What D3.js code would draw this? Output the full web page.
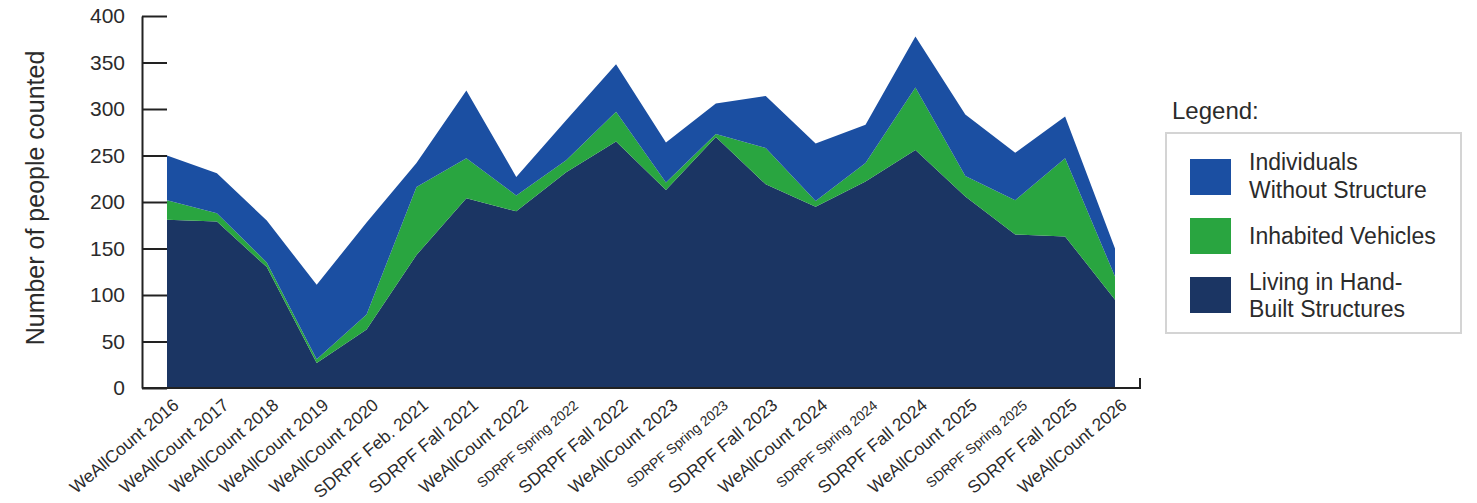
<!DOCTYPE html>
<html>
<head>
<meta charset="utf-8">
<script src="https://cdn.jsdelivr.net/npm/d3@7"></script>
<style>
  body { margin: 0; background: #fff; }
  svg text { font-family: "Liberation Sans", Arial, sans-serif; fill: #2b2b2b; }
</style>
</head>
<body>
<div id="chart"></div>
<script>
// counts
const categories = ["WeAllCount 2016", "WeAllCount 2017", "WeAllCount 2018", "WeAllCount 2019",
  "WeAllCount 2020", "SDRPF Feb. 2021", "SDRPF Fall 2021", "WeAllCount 2022", "SDRPF Spring 2022",
  "SDRPF Fall 2022", "WeAllCount 2023", "SDRPF Spring 2023", "SDRPF Fall 2023", "WeAllCount 2024",
  "SDRPF Spring 2024", "SDRPF Fall 2024", "WeAllCount 2025", "SDRPF Spring 2025", "SDRPF Fall 2025",
  "WeAllCount 2026"];
const handBuilt = [181, 179, 130, 27, 63, 143, 204, 190, 232, 265, 213, 270, 219, 195, 222, 256, 206, 165, 163, 95];
const vehicles = [21, 9, 5, 4, 16, 73, 43, 17, 13, 32, 8, 3, 39, 6, 20, 67, 22, 37, 84, 25];
const individuals = [48, 43, 45, 80, 99, 26, 73, 20, 43, 51, 43, 33, 56, 62, 41, 55, 66, 51, 45, 30];
const yTicks = [0, 50, 100, 150, 200, 250, 300, 350, 400];

const seriesKeys = ["handBuilt", "vehicles", "individuals"];
const colors = {handBuilt: "#1b3563", vehicles: "#29a540", individuals: "#1b4fa2"};
const legendItems = [
  {key: "individuals", lines: ["Individuals", "Without Structure"]},
  {key: "vehicles", lines: ["Inhabited Vehicles"]},
  {key: "handBuilt", lines: ["Living in Hand-", "Built Structures"]}
];

const width = 1477, height = 503;
const rows = categories.map((c, i) => ({
  cat: c, handBuilt: handBuilt[i], vehicles: vehicles[i], individuals: individuals[i]
}));

const svg = d3.select("#chart").append("svg")
  .attr("width", width)
  .attr("height", height);

// scales
const x = d3.scalePoint().domain(categories).range([167, 1115]);
const y = d3.scaleLinear().domain([0, 400]).range([388, 16]);

const stacked = d3.stack().keys(seriesKeys)(rows);

const area = d3.area()
  .x(d => x(d.data.cat))
  .y0(d => y(d[0]))
  .y1(d => y(d[1]));

svg.append("g")
  .selectAll("path")
  .data(stacked)
  .join("path")
  .attr("d", area)
  .attr("fill", d => colors[d.key]);

// y axis, ticks pointing inwards
const yAxis = svg.append("g")
  .attr("transform", "translate(142,0)")
  .call(d3.axisLeft(y).tickValues(yTicks).tickSizeInner(-25).tickSizeOuter(0).tickPadding(17));
yAxis.select(".domain").attr("stroke", "#222").attr("stroke-width", 2);
yAxis.selectAll(".tick line").attr("stroke", "#222").attr("stroke-width", 2);
yAxis.selectAll(".tick text")
  .attr("font-size", 21)
  .attr("font-family", "Liberation Sans, Arial, sans-serif")
  .attr("fill", "#2b2b2b");

// bottom line with the little end tick
svg.append("path")
  .attr("d", "M142," + y(0) + "H1140V" + (y(0) - 10))
  .attr("fill", "none")
  .attr("stroke", "#222")
  .attr("stroke-width", 2);

// x labels (the Spring ones are set smaller in the original)
svg.append("g")
  .selectAll("text")
  .data(categories)
  .join("text")
  .attr("transform", d => "translate(" + (x(d) + 13) + ",407) rotate(-40)")
  .attr("text-anchor", "end")
  .attr("font-size", d => d.includes("Spring") ? 14 : 17.5)
  .text(d => d);

// y title
svg.append("text")
  .attr("transform", "translate(44,198) rotate(-90)")
  .attr("text-anchor", "middle")
  .attr("font-size", 25)
  .text("Number of people counted");

// legend
svg.append("text")
  .attr("x", 1172)
  .attr("y", 119)
  .attr("font-size", 24)
  .text("Legend:");

svg.append("rect")
  .attr("x", 1166).attr("y", 133)
  .attr("width", 295).attr("height", 200)
  .attr("fill", "#fff")
  .attr("stroke", "#d4d4d4")
  .attr("stroke-width", 2);

const swatchY = [159, 218, 277];
const textY = [[170, 198], [244], [290, 317]];
const leg = svg.append("g");
legendItems.forEach((item, i) => {
  leg.append("rect")
    .attr("x", 1190).attr("y", swatchY[i])
    .attr("width", 41).attr("height", 36)
    .attr("fill", colors[item.key]);
  item.lines.forEach((line, j) => {
    leg.append("text")
      .attr("x", 1249)
      .attr("y", textY[i][j])
      .attr("font-size", 23)
      .text(line);
  });
});
</script>
</body>
</html>
